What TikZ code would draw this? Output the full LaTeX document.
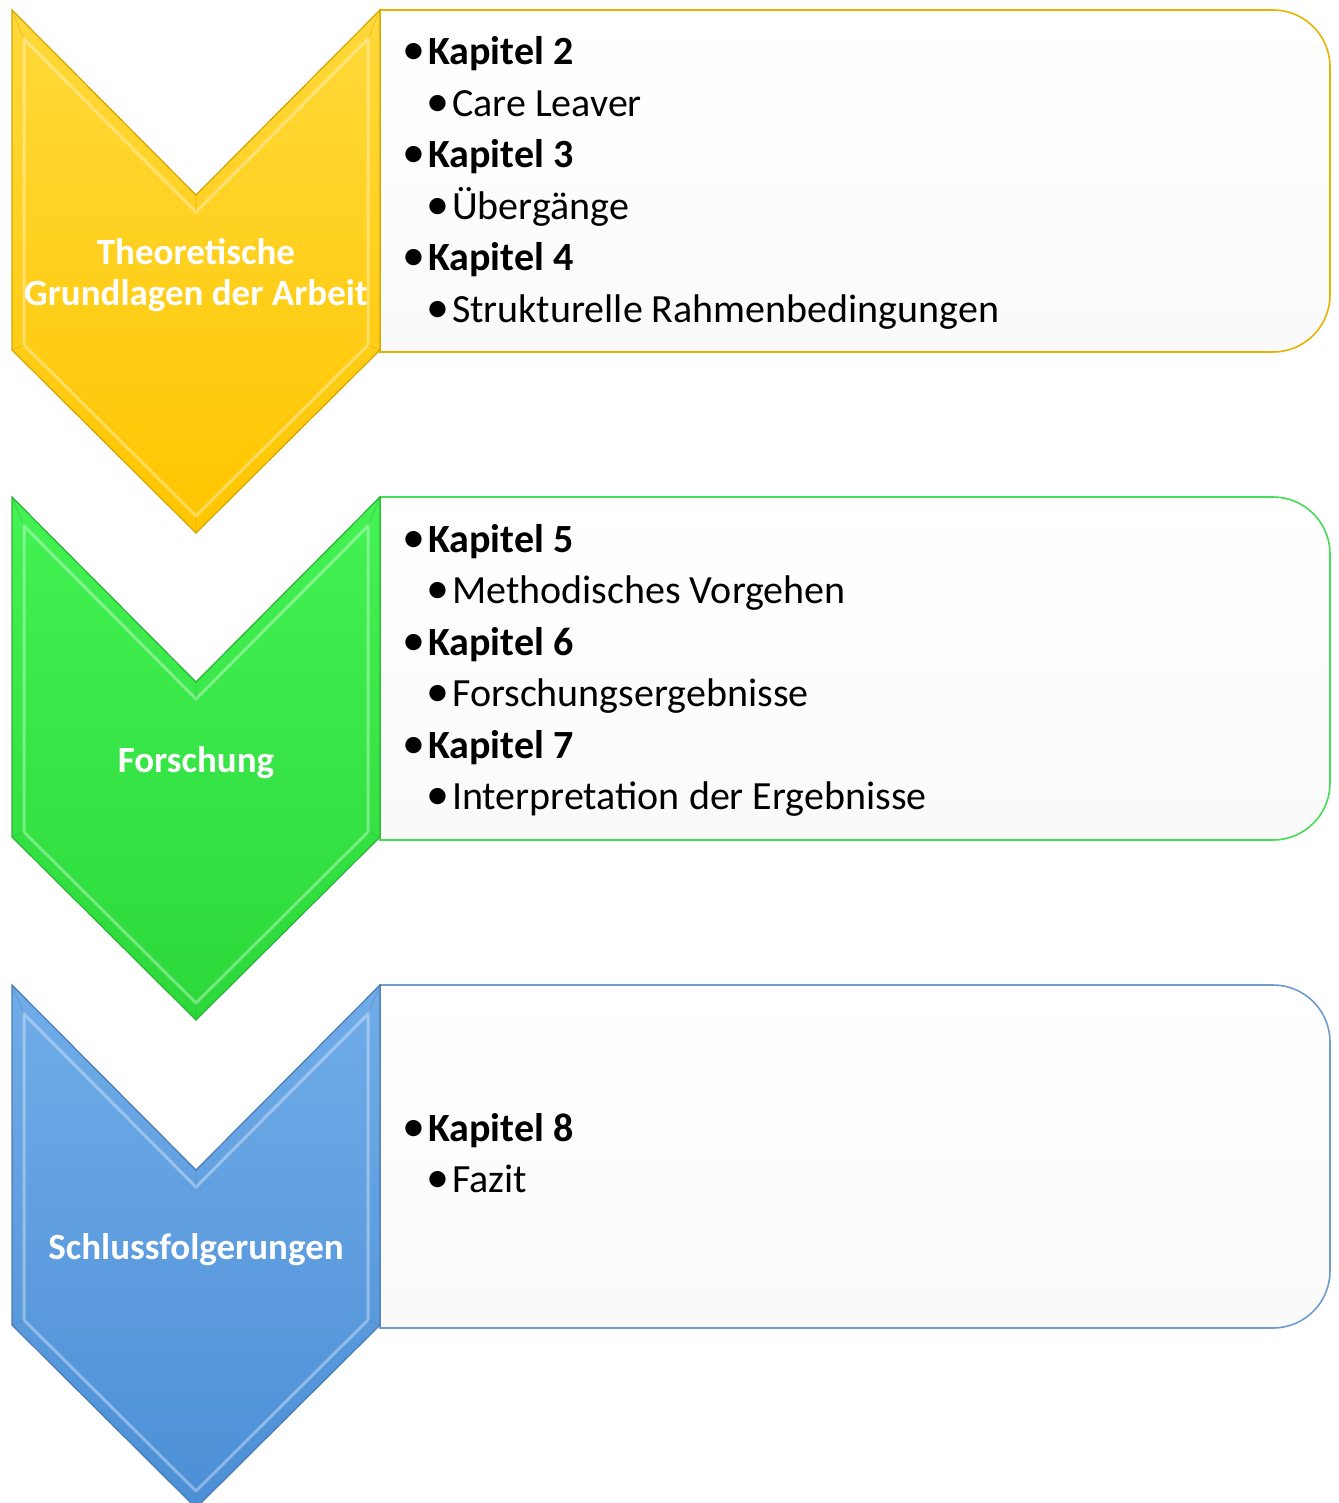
\documentclass[tikz,border=0pt]{standalone}
\usepackage{fontspec}
\setmainfont{Carlito}
\begin{document}
\begin{tikzpicture}[x=1pt,y=1pt,
  boxtext/.style={anchor=base west,inner sep=0pt,font=\fontsize{40}{48}\selectfont,text=black},
  boldtext/.style={boxtext,font=\fontsize{40}{48}\selectfont\bfseries},
  bul/.style={anchor=base,inner sep=0pt,font=\fontsize{46}{48}\selectfont,text=black},
  chevlabel/.style={align=center,inner sep=0pt,text=white,font=\fontsize{37}{41}\selectfont\bfseries},
  panel/.style={line width=1.6pt,top color=white,bottom color=black!2}
]
\definecolor{ytop}{HTML}{FFD93A}\definecolor{ybot}{HTML}{FFC600}\definecolor{yedge}{HTML}{D4A500}
\definecolor{gtop}{HTML}{44F254}\definecolor{gbot}{HTML}{2CD83A}\definecolor{gedge}{HTML}{2AB537}
\definecolor{btop}{HTML}{70ACE8}\definecolor{bbot}{HTML}{4C8FD6}\definecolor{bedge}{HTML}{4A7DB5}
\definecolor{yline}{HTML}{E6B400}\definecolor{gline}{HTML}{44DD55}\definecolor{bline}{HTML}{6D9CCF}
\useasboundingbox (0,0) rectangle (1338,-1503);
\fill[white] (0,0) rectangle (1338,-1503);
% #1 top y, #2 top colour, #3 bottom colour, #4 edge colour
\newcommand\mychevron[4]{%
  \path[top color=#2,bottom color=#3,draw=#4,line width=1.2pt,line join=miter]
    (12,-#1) -- (196,-#1-185) -- (380,-#1) -- (380,-#1-340) -- (196,-#1-523) -- (12,-#1-340) -- cycle;
  \draw[white,opacity=0.35,line width=3pt]
    (24,-#1-29) -- (196,-#1-202) -- (368,-#1-29) -- (368,-#1-335) -- (196,-#1-506) -- (24,-#1-335) -- cycle;
  \draw[#4,opacity=0.35,line width=1pt]
    (12,-#1) -- (24,-#1-29) (196,-#1-185) -- (196,-#1-202) (380,-#1) -- (368,-#1-29)
    (380,-#1-340) -- (368,-#1-335) (196,-#1-523) -- (196,-#1-506) (12,-#1-340) -- (24,-#1-335);
}
% #1 top y, #2 bottom y, #3 line colour
\newcommand\mypanel[3]{%
  \path[panel,draw=#3] (380,-#1) -- (1273,-#1) arc[start angle=90,end angle=0,radius=57]
    -- (1330,-#2+57) arc[start angle=0,end angle=-90,radius=57] -- (380,-#2) -- cycle;
}
\mypanel{10}{352}{yline}
\mypanel{497}{840}{gline}
\mypanel{985}{1328}{bline}
\mychevron{10}{ytop}{ybot}{yedge}
\mychevron{497}{gtop}{gbot}{gedge}
\mychevron{985}{btop}{bbot}{bedge}
% chevron labels
\node[chevlabel] (c1) at (196,-275) {Theoretische\\Grundlagen der Arbeit};
\node[chevlabel] (c2) at (196,-763) {Forschung};
\node[chevlabel] (c3) at (196,-1250) {Schlussfolgerungen};
% panel 1
\node[bul] (b1a) at (413.5,-65) {•};   \node[boldtext] (t1a) at (428,-65) {Kapitel 2};
\node[bul] (b1b) at (437.5,-116.5) {•}; \node[boxtext] (t1b) at (452,-116.5) {Care Leaver};
\node[bul] (b1c) at (413.5,-168) {•};  \node[boldtext] (t1c) at (428,-168) {Kapitel 3};
\node[bul] (b1d) at (437.5,-219.5) {•}; \node[boxtext] (t1d) at (452,-219.5) {Übergänge};
\node[bul] (b1e) at (413.5,-271) {•};  \node[boldtext] (t1e) at (428,-271) {Kapitel 4};
\node[bul] (b1f) at (437.5,-322.5) {•}; \node[boxtext] (t1f) at (452,-322.5) {Strukturelle Rahmenbedingungen};
% panel 2
\node[bul] (b2a) at (413.5,-552) {•};   \node[boldtext] (t2a) at (428,-552) {Kapitel 5};
\node[bul] (b2b) at (437.5,-603.5) {•}; \node[boxtext] (t2b) at (452,-603.5) {Methodisches Vorgehen};
\node[bul] (b2c) at (413.5,-655) {•};  \node[boldtext] (t2c) at (428,-655) {Kapitel 6};
\node[bul] (b2d) at (437.5,-706.5) {•}; \node[boxtext] (t2d) at (452,-706.5) {Forschungsergebnisse};
\node[bul] (b2e) at (413.5,-758) {•};  \node[boldtext] (t2e) at (428,-758) {Kapitel 7};
\node[bul] (b2f) at (437.5,-809.5) {•}; \node[boxtext] (t2f) at (452,-809.5) {Interpretation der Ergebnisse};
% panel 3
\node[bul] (b3a) at (413.5,-1141) {•};   \node[boldtext] (t3a) at (428,-1141) {Kapitel 8};
\node[bul] (b3b) at (437.5,-1192.5) {•}; \node[boxtext] (t3b) at (452,-1192.5) {Fazit};
\end{tikzpicture}
\end{document}
